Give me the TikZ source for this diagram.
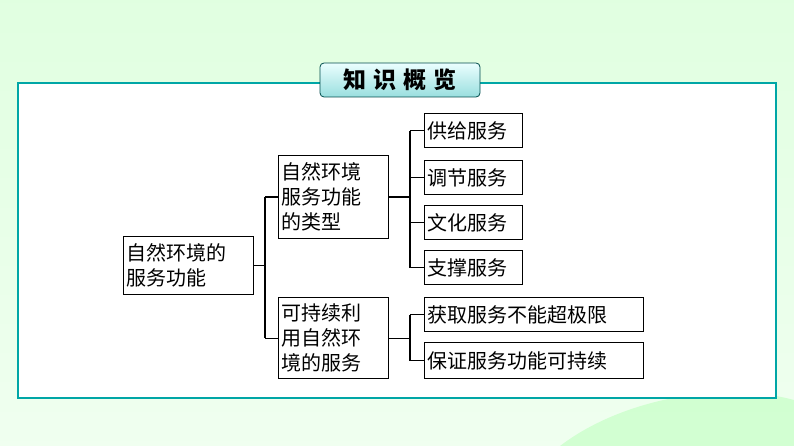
\documentclass[tikz,border=0pt]{standalone}
\usepackage{fontspec}
\setmainfont{Noto Sans CJK SC}
\begin{document}
\begin{tikzpicture}[x=1pt,y=-1pt,
 bx/.style={draw=black,line width=1.2pt,fill=white,inner sep=3pt,align=left,font=\fontsize{20}{25}\selectfont,anchor=north west},
 ln/.style={line width=1.2pt}]
\fill[top color=green!12!white,bottom color=green!6!white] (0,0) rectangle (794,446);
\fill[green!25!white,opacity=0.6] (560,446) .. controls (620,400) and (720,380) .. (794,400) -- (794,446) -- cycle;
\draw[draw=teal!70!cyan,line width=1.5pt,fill=white] (18,83) rectangle (776,398);
\node[draw=teal!60!black,rounded corners=4pt,top color=cyan!8!white,bottom color=cyan!35!teal!40!white,minimum width=160,minimum height=34,font=\bfseries\fontsize{23}{24}\selectfont,line width=0.8pt] (t) at (400,80) {知\hspace{7pt}识\hspace{7pt}概\hspace{7pt}览};
\node[bx,text width=124,minimum height=58] (r) at (123,236) {自然环境的\\服务功能};
\node[bx,text width=104,minimum height=83] (m1) at (278,155) {自然环境\\服务功能\\的类型};
\node[bx,text width=104,minimum height=81] (m2) at (278,297) {可持续利\\用自然环\\境的服务};
\node[bx,text width=92,minimum height=34] (a) at (424,113) {供给服务};
\node[bx,text width=92,minimum height=34] (b) at (424,160) {调节服务};
\node[bx,text width=92,minimum height=34] (c) at (424,205) {文化服务};
\node[bx,text width=92,minimum height=34] (d) at (424,250) {支撑服务};
\node[bx,text width=213,minimum height=34] (e) at (424,297) {获取服务不能超极限};
\node[bx,text width=213,minimum height=36] (f) at (424,342) {保证服务功能可持续};
\coordinate (j0) at (265,0);
\coordinate (j1) at (410,0);
\draw[ln] (r.east) -- (r.east -| j0);
\draw[ln] (m1.west -| j0) -- (m2.west -| j0);
\draw[ln] (m1.west -| j0) -- (m1.west);
\draw[ln] (m2.west -| j0) -- (m2.west);
\draw[ln] (m1.east) -- (m1.east -| j1);
\draw[ln] (a.west -| j1) -- (d.west -| j1);
\foreach \n in {a,b,c,d} \draw[ln] (\n.west -| j1) -- (\n.west);
\draw[ln] (m2.east) -- (m2.east -| j1);
\draw[ln] (e.west -| j1) -- (f.west -| j1);
\foreach \n in {e,f} \draw[ln] (\n.west -| j1) -- (\n.west);
\end{tikzpicture}
\end{document}
